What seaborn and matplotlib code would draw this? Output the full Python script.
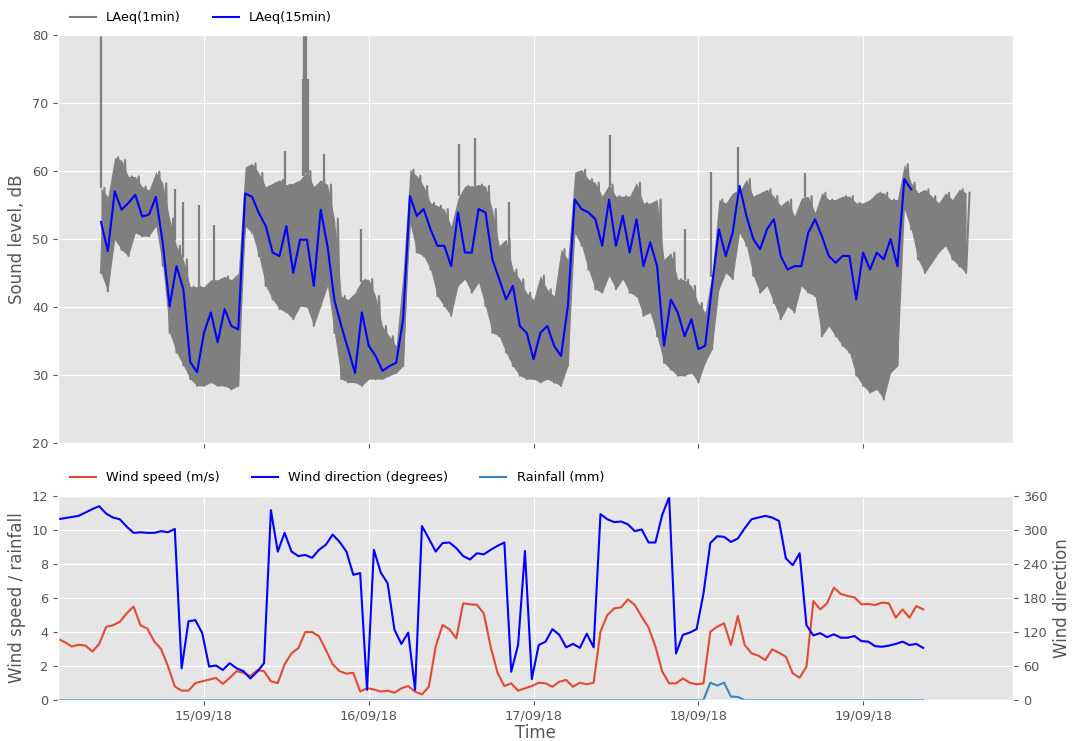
import numpy as np
import pandas as pd
import seaborn as sns
import matplotlib.pyplot as plt
import matplotlib.dates as mdates

plt.style.use("ggplot")

# --- DATA ---
# Sound level: hourly low / high envelope of the 1-min LAeq, from 14/09/18 09:00
SOUND_START = "2018-09-14 09:00"
laeq1_hi = [
    57.5, 56.2, 62.0, 61.6, 59.2, 59.2, 57.7, 57.2, 59.9, 58.2,
    53.0, 49.0, 47.0, 43.0, 43.0, 43.0, 44.0, 44.0, 44.5, 44.0,
    45.0, 60.6, 61.1, 59.7, 57.7, 58.2, 58.7, 58.0, 58.2, 58.7,
    60.0, 57.7, 58.7, 58.0, 53.0,
    41.6, 41.1, 42.1, 44.0, 44.1, 41.6, 37.2, 35.7, 34.3, 45.0,
    60.2, 59.3, 57.8, 55.3, 54.9, 54.4, 51.9, 56.0, 57.8, 57.8,
    58.0, 57.8, 54.4, 49.0, 50.0, 45.5, 44.1, 42.1, 41.1, 44.6,
    42.6, 41.6, 48.5, 47.0, 59.8, 60.2, 58.8, 58.3, 56.3, 58.0,
    56.3, 56.3, 56.3, 58.3, 55.3, 55.3, 55.8,
    47.0, 48.0, 44.1, 44.0, 43.1, 40.6, 39.2, 45.0, 55.8, 55.3,
    56.8, 57.0, 58.8, 56.3, 56.8, 57.3, 56.3, 54.9, 55.8, 53.4,
    56.0, 56.3, 53.9, 56.8, 55.8, 55.8, 56.3, 56.3, 55.3, 55.3,
    55.8, 56.8, 56.8, 55.8, 55.8, 61.0, 58.3, 56.8, 57.3, 56.3,
    55.3, 56.8, 55.8, 57.3, 56.8,
]
laeq1_lo = [
    45.0, 42.3, 49.9, 48.4, 47.5, 50.9, 50.4, 50.4, 51.9, 46.0,
    36.2, 33.3, 31.4, 29.4, 28.4, 28.4, 28.9, 28.4, 28.4, 27.9,
    28.4, 51.9, 50.9, 47.5, 43.1, 41.1, 39.7, 39.2, 38.2, 40.1,
    40.0, 37.2, 40.1, 43.1, 36.2,
    29.4, 28.9, 28.9, 28.4, 29.4, 29.4, 29.4, 29.9, 30.3, 31.3,
    52.4, 48.0, 47.5, 45.5, 41.6, 40.1, 38.7, 43.1, 44.1, 42.1,
    43.6, 40.1, 36.2, 35.7, 33.3, 31.3, 29.9, 29.4, 29.4, 28.9,
    29.4, 28.9, 28.4, 31.3, 50.9, 49.0, 45.5, 42.6, 42.1, 44.6,
    42.6, 44.1, 42.1, 41.6, 38.7, 39.2, 35.7,
    31.8, 30.8, 29.9, 29.9, 30.3, 28.9, 31.8, 33.8, 42.6, 45.0,
    44.1, 50.9, 49.0, 44.6, 42.1, 43.1, 40.6, 38.2, 40.1, 39.2,
    43.1, 42.1, 41.6, 35.7, 37.2, 35.7, 34.3, 33.3, 29.9, 28.4,
    27.4, 27.9, 26.4, 30.3, 31.3, 54.4, 51.4, 47.0, 45.0, 46.5,
    48.0, 49.0, 47.0, 46.0, 45.0,
]
# isolated 1-min peaks: hours after SOUND_START, level
spike_hours = [0.0, 10.8, 11.9, 14.3, 16.4, 26.8, 29.4, 29.6, 29.8, 30.0, 30.2,
               32.5, 37.8, 52.2, 54.5, 59.4, 74.1, 85.0, 88.9, 92.8, 102.6]
spike_db = [85, 57.3, 55.5, 55, 52, 63, 73.5, 85, 85, 73.5, 73.5,
            62.5, 51.5, 64, 64.8, 55.5, 65.3, 51.5, 59.8, 63.5, 59.7]
# 15-min LAeq, read hourly
laeq15 = [
    52.5, 48.2, 57.0, 54.3, 55.3, 56.5, 53.3, 53.6, 56.2, 49.4,
    40.1, 46.0, 42.6, 31.9, 30.4, 36.2, 39.2, 34.8, 39.7, 37.2,
    36.7, 56.7, 56.2, 53.8, 51.9, 48.0, 47.5, 51.9, 45.0, 49.9,
    49.9, 43.1, 54.3, 48.9,
    41.0, 37.2, 33.8, 30.3, 39.2, 34.3, 32.8, 30.6, 31.3, 31.8,
    38.2, 56.3, 53.4, 54.4, 51.4, 49.0, 49.0, 46.0, 53.9, 48.0,
    48.0, 54.4, 53.9, 47.0, 44.1, 41.1, 43.1, 37.2, 36.2, 32.3,
    36.2, 37.2, 34.3, 32.8, 40.1, 55.8, 54.4, 53.9, 52.9, 49.0,
    55.8, 49.0, 53.4, 48.0, 52.9, 46.0, 49.5,
    46.0, 34.3, 41.1, 39.2, 35.7, 38.2, 33.8, 34.3, 43.1, 51.4,
    47.5, 50.9, 57.8, 53.4, 50.0, 48.5, 51.4, 52.9, 47.5, 45.5,
    46.0, 46.0, 50.9, 52.9, 50.4, 47.5, 46.5, 47.5, 47.5, 41.1,
    48.0, 45.5, 48.0, 47.0, 50.0, 46.0, 58.8, 57.3,
]

# Weather, hourly from 14/09/18 02:45
WIND_START = "2018-09-14 02:45"
wind_speed = [
    3.6, 3.4, 3.15, 3.25, 3.2, 2.85, 3.3, 4.3, 4.4, 4.6,
    5.1, 5.5, 4.4, 4.2, 3.45, 3.0, 2.0, 0.8, 0.55, 0.55,
    1.0, 1.1, 1.2, 1.3, 0.95, 1.3, 1.7, 1.6, 1.4, 1.75,
    1.7, 1.1, 1.0, 2.1, 2.75, 3.05, 4.0, 4.0, 3.75, 2.95,
    2.1, 1.7, 1.55, 1.6, 0.5, 0.7, 0.62, 0.5,
    0.55, 0.43, 0.69, 0.82, 0.49, 0.33, 0.78, 3.14, 4.41, 4.16,
    3.63, 5.69, 5.63, 5.6, 5.1, 3.14, 1.61, 0.82, 0.98, 0.55,
    0.69, 0.82, 1.02, 0.98, 0.78, 1.08, 1.18, 0.78, 1.02, 0.92,
    1.02, 4.02, 5.0, 5.39, 5.45, 5.92, 5.59, 4.9, 4.27, 3.14,
    1.67, 0.98, 0.98, 1.27, 1.02, 0.92, 0.98,
    4.02, 4.31, 4.51, 3.24, 4.94, 3.24, 2.75, 2.61, 2.35, 2.98,
    2.78, 2.55, 1.57, 1.31, 1.96, 5.82, 5.33, 5.69, 6.61, 6.24,
    6.12, 6.04, 5.63, 5.65, 5.59, 5.73, 5.69, 4.84, 5.33, 4.84,
    5.53, 5.33,
]
wind_dir = [
    319, 321, 323, 325, 331, 337, 342, 329, 322, 319,
    306, 295, 296, 295, 295, 298, 296, 302, 56, 139,
    141, 118, 59, 61, 53, 65, 56, 51, 38, 50,
    65, 335, 262, 295, 262, 254, 256, 251, 265, 274,
    292, 279, 262, 221, 224, 18, 265, 225,
    206, 124, 99, 119, 18, 307, 285, 262, 277, 278,
    268, 254, 248, 259, 257, 265, 272, 278, 50, 97,
    263, 37, 97, 103, 125, 115, 93, 99, 92, 117,
    93, 328, 319, 314, 315, 310, 298, 301, 278, 278,
    327, 358, 82, 115, 119, 125, 188,
    277, 289, 288, 279, 285, 303, 319, 322, 325, 322,
    316, 250, 238, 259, 132, 114, 118, 111, 116, 110,
    110, 113, 104, 103, 95, 94, 96, 99, 103, 97,
    99, 92,
]
rainfall = [
    0, 0, 0, 0, 0, 0, 0, 0, 0, 0, 0, 0, 0, 0, 0, 0, 0, 0, 0, 0,
    0, 0, 0, 0, 0, 0, 0, 0, 0, 0, 0, 0, 0, 0, 0, 0, 0, 0, 0, 0,
    0, 0, 0, 0, 0, 0, 0, 0, 0, 0, 0, 0, 0, 0, 0, 0, 0, 0, 0, 0,
    0, 0, 0, 0, 0, 0, 0, 0, 0, 0, 0, 0, 0, 0, 0, 0, 0, 0, 0, 0,
    0, 0, 0, 0, 0, 0, 0, 0, 0, 0, 0, 0, 0, 0, 0,
    1.02, 0.85, 1.02, 0.2, 0.18, 0.0,
    0, 0, 0, 0, 0, 0, 0, 0, 0, 0, 0, 0, 0,
    0, 0, 0, 0, 0, 0, 0, 0, 0, 0, 0, 0, 0,
]

GREY = "#7f7f7f"
RED = "#E24A33"
RAIN = "#348ABD"
LEG_FS = 9.3
TICK_FS = 9.3
LABEL_FS = 12

# ── time axes ────────────────────────────────────────────────────────────────
t_snd = pd.date_range(SOUND_START, periods=len(laeq1_hi), freq="h")
t_15 = pd.date_range(SOUND_START, periods=len(laeq15), freq="h")
t_wind = pd.date_range(WIND_START, periods=len(wind_speed), freq="h")
t_spk = pd.Timestamp(SOUND_START) + pd.to_timedelta(spike_hours, unit="h")

# 1-min series drawn as a low/high zigzag inside its envelope
zig_t = np.ravel(np.column_stack([t_snd.values, (t_snd + pd.Timedelta(minutes=30)).values]))
zig_v = np.ravel(np.column_stack([laeq1_lo, laeq1_hi]))
df_1min = pd.DataFrame({"time": zig_t, "level": zig_v})
df_15 = pd.DataFrame({"time": t_15, "level": laeq15})
df_w = pd.DataFrame({"time": t_wind, "speed": wind_speed,
                     "direction": wind_dir, "rain": rainfall})

fig = plt.figure(figsize=(10.77, 7.41), dpi=100)
ax1 = fig.add_axes([0.0539, 0.4022, 0.8867, 0.5506])
ax3 = fig.add_axes([0.0539, 0.0553, 0.8867, 0.2753], sharex=ax1)
ax4 = ax3.twinx()

# ── top: sound level ─────────────────────────────────────────────────────────
ax1.fill_between(t_snd, laeq1_lo, laeq1_hi, color=GREY, lw=0)
sns.lineplot(data=df_1min, x="time", y="level", ax=ax1, color=GREY, lw=1.5,
             label="LAeq(1min)", legend=False)
base = np.interp(spike_hours, np.arange(len(laeq1_hi)), laeq1_hi)
ax1.vlines(t_spk, base, spike_db, color=GREY, lw=1.6)
sns.lineplot(data=df_15, x="time", y="level", ax=ax1, color="blue", lw=1.5,
             label="LAeq(15min)", legend=False)

ax1.set_ylim(20, 80)
ax1.set_yticks(range(20, 81, 10))
ax1.set_ylabel("Sound level, dB", fontsize=LABEL_FS)
ax1.set_xlabel("")
ax1.tick_params(labelsize=TICK_FS)
plt.setp(ax1.get_xticklabels(), visible=False)
h, l = ax1.get_legend_handles_labels()
ax1.legend(h, l, loc="lower left", bbox_to_anchor=(0, 0.998), ncol=2,
           frameon=False, columnspacing=2.5, fontsize=LEG_FS)

# ── bottom: weather ──────────────────────────────────────────────────────────
sns.lineplot(data=df_w, x="time", y="speed", ax=ax3, color=RED, lw=1.5,
             label="Wind speed (m/s)", legend=False)
sns.lineplot(data=df_w, x="time", y="rain", ax=ax3, color=RAIN, lw=1.5,
             label="Rainfall (mm)", legend=False, clip_on=False)
sns.lineplot(data=df_w, x="time", y="direction", ax=ax4, color="blue", lw=1.5,
             label="Wind direction (degrees)", legend=False)

ax3.set_ylim(0, 12)
ax3.set_yticks(range(0, 13, 2))
ax4.set_ylim(0, 360)
ax4.set_yticks(range(0, 361, 60))
ax4.grid(False)
ax3.tick_params(labelsize=TICK_FS)
ax4.tick_params(labelsize=TICK_FS)
ax3.set_ylabel("Wind speed / rainfall", fontsize=LABEL_FS)
ax4.set_ylabel("Wind direction", fontsize=LABEL_FS)
ax3.set_xlabel("Time", fontsize=LABEL_FS, labelpad=1)

ax3.set_xlim(pd.Timestamp("2018-09-14 02:45"), pd.Timestamp("2018-09-19 21:50"))
ax3.xaxis.set_major_locator(mdates.DayLocator())
ax3.xaxis.set_major_formatter(mdates.DateFormatter("%d/%m/%y"))

h3, l3 = ax3.get_legend_handles_labels()
h4, l4 = ax4.get_legend_handles_labels()
ax3.legend([h3[0], h4[0], h3[1]], [l3[0], l4[0], l3[1]], loc="lower left",
           bbox_to_anchor=(0, 1.0), ncol=3, frameon=False,
           columnspacing=2.5, fontsize=LEG_FS)

fig.savefig("out.png", dpi=100)
